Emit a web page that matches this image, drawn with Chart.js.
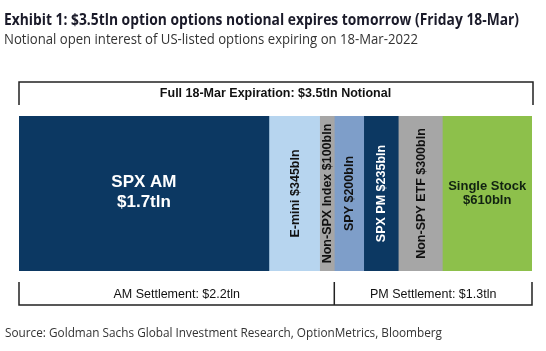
<!DOCTYPE html>
<html>
<head>
<meta charset="utf-8">
<script src="https://cdn.jsdelivr.net/npm/chart.js@4"></script>
<style>
html,body{margin:0;padding:0;background:#fff;}
#wrap{position:relative;width:546px;height:351px;}
</style>
</head>
<body>
<div id="wrap"><canvas id="c" width="546" height="351"></canvas></div>
<script>
// ---- data ----
const segmentNames = ["SPX AM", "E-mini", "Non-SPX Index", "SPY", "SPX PM", "Non-SPY ETF", "Single Stock"];
const segmentValues = [1700, 345, 100, 200, 235, 300, 610]; // $bln
const segmentLabels = [["SPX AM", "$1.7tln"], ["E-mini $345bln"], ["Non-SPX Index $100bln"], ["SPY $200bln"], ["SPX PM $235bln"], ["Non-SPY ETF $300bln"], ["Single Stock", "$610bln"]];
const segmentColors = ["#0c3862", "#b7d5ef", "#a6a6a6", "#7e9ec9", "#0c3862", "#a6a6a6", "#8dc04b"];
const segmentTextColors = ["#ffffff", "#111111", "#111111", "#111111", "#ffffff", "#111111", "#112211"];
const segmentVertical = [false, true, true, true, true, true, false];
const amSegments = 3; // SPX AM, E-mini, Non-SPX Index settle AM
const topBracketLabel = "Full 18-Mar Expiration: $3.5tln Notional";
const amLabel = "AM Settlement: $2.2tln";
const pmLabel = "PM Settlement: $1.3tln";
const titleText = "Exhibit 1: $3.5tln option options notional expires tomorrow (Friday 18-Mar)";
const subtitleText = "Notional open interest of US-listed options expiring on 18-Mar-2022";
const sourceText = "Source: Goldman Sachs Global Investment Research, OptionMetrics, Bloomberg";

const total = segmentValues.reduce((a, b) => a + b, 0);

const datasets = segmentValues.map((v, i) => ({
  label: segmentNames[i],
  data: [v],
  backgroundColor: segmentColors[i],
  borderWidth: 0,
  barPercentage: 1,
  categoryPercentage: 1
}));

const overlay = {
  id: 'overlay',
  afterDraw(chart) {
    const ctx = chart.ctx;
    const xs = chart.scales.x;
    const area = chart.chartArea;
    const x0 = xs.getPixelForValue(0);
    const x1 = xs.getPixelForValue(total);
    const midY = (area.top + area.bottom) / 2;
    ctx.save();

    // titles
    ctx.textBaseline = 'alphabetic';
    ctx.textAlign = 'left';
    ctx.fillStyle = '#1b1b2a';
    ctx.font = 'bold 16.5px "Open Sans", "Noto Sans", sans-serif';
    ctx.fillText(titleText, 4, 25, 515);
    ctx.fillStyle = '#333333';
    ctx.font = '14px "Open Sans", "Noto Sans", sans-serif';
    ctx.fillText(subtitleText, 4, 44, 414);
    ctx.font = '12.5px "Open Sans", "Noto Sans", sans-serif';
    ctx.fillText(sourceText, 5, 337, 437);

    // top bracket
    ctx.strokeStyle = '#222222';
    ctx.lineWidth = 1.5;
    ctx.beginPath();
    ctx.moveTo(x0, 105); ctx.lineTo(x0, 82); ctx.lineTo(x1 + 1, 82); ctx.lineTo(x1 + 1, 105);
    ctx.stroke();
    ctx.fillStyle = '#111111';
    ctx.textAlign = 'center';
    ctx.font = 'bold 12.5px "Liberation Sans", Arial, sans-serif';
    ctx.fillText(topBracketLabel, (x0 + x1) / 2, 97);

    // bottom bracket
    let amEnd = 0;
    for (let i = 0; i < amSegments; i++) amEnd += segmentValues[i];
    const xm = xs.getPixelForValue(amEnd);
    ctx.beginPath();
    ctx.moveTo(x0, 282); ctx.lineTo(x0, 305); ctx.lineTo(x1, 305); ctx.lineTo(x1, 282);
    ctx.moveTo(xm, 282); ctx.lineTo(xm, 305);
    ctx.stroke();
    ctx.font = '12.5px "Liberation Sans", Arial, sans-serif';
    ctx.fillStyle = '#111111';
    ctx.fillText(amLabel, (x0 + xm) / 2, 298);
    ctx.fillText(pmLabel, (xm + x1) / 2, 298);

    // segment labels
    let cum = 0;
    segmentValues.forEach((v, i) => {
      const a = xs.getPixelForValue(cum);
      const b = xs.getPixelForValue(cum + v);
      cum += v;
      const cx = (a + b) / 2;
      ctx.fillStyle = segmentTextColors[i];
      const lines = segmentLabels[i];
      if (segmentVertical[i]) {
        ctx.save();
        ctx.translate(cx + 4.5, midY);
        ctx.rotate(-Math.PI / 2);
        ctx.textAlign = 'center';
        ctx.font = 'bold 12.5px "Liberation Sans", Arial, sans-serif';
        ctx.fillText(lines[0], 0, 0);
        ctx.restore();
      } else if (i === 0) {
        ctx.textAlign = 'center';
        ctx.font = 'bold 17px "Liberation Sans", Arial, sans-serif';
        ctx.fillText(lines[0], cx, 187);
        ctx.fillText(lines[1], cx, 207);
      } else {
        ctx.textAlign = 'center';
        ctx.font = 'bold 13px "Liberation Sans", Arial, sans-serif';
        ctx.fillText(lines[0], cx, 190);
        ctx.fillText(lines[1], cx, 204);
      }
    });
    ctx.restore();
  }
};

new Chart(document.getElementById('c'), {
  type: 'bar',
  data: { labels: ["18-Mar"], datasets },
  options: {
    indexAxis: 'y',
    responsive: false,
    animation: false,
    layout: { padding: { left: 19, right: 14, top: 116, bottom: 80 } },
    plugins: { legend: { display: false }, tooltip: { enabled: false }, title: { display: false } },
    scales: {
      x: { stacked: true, min: 0, max: total, display: false },
      y: { stacked: true, display: false }
    }
  },
  plugins: [overlay]
});
</script>
</body>
</html>
